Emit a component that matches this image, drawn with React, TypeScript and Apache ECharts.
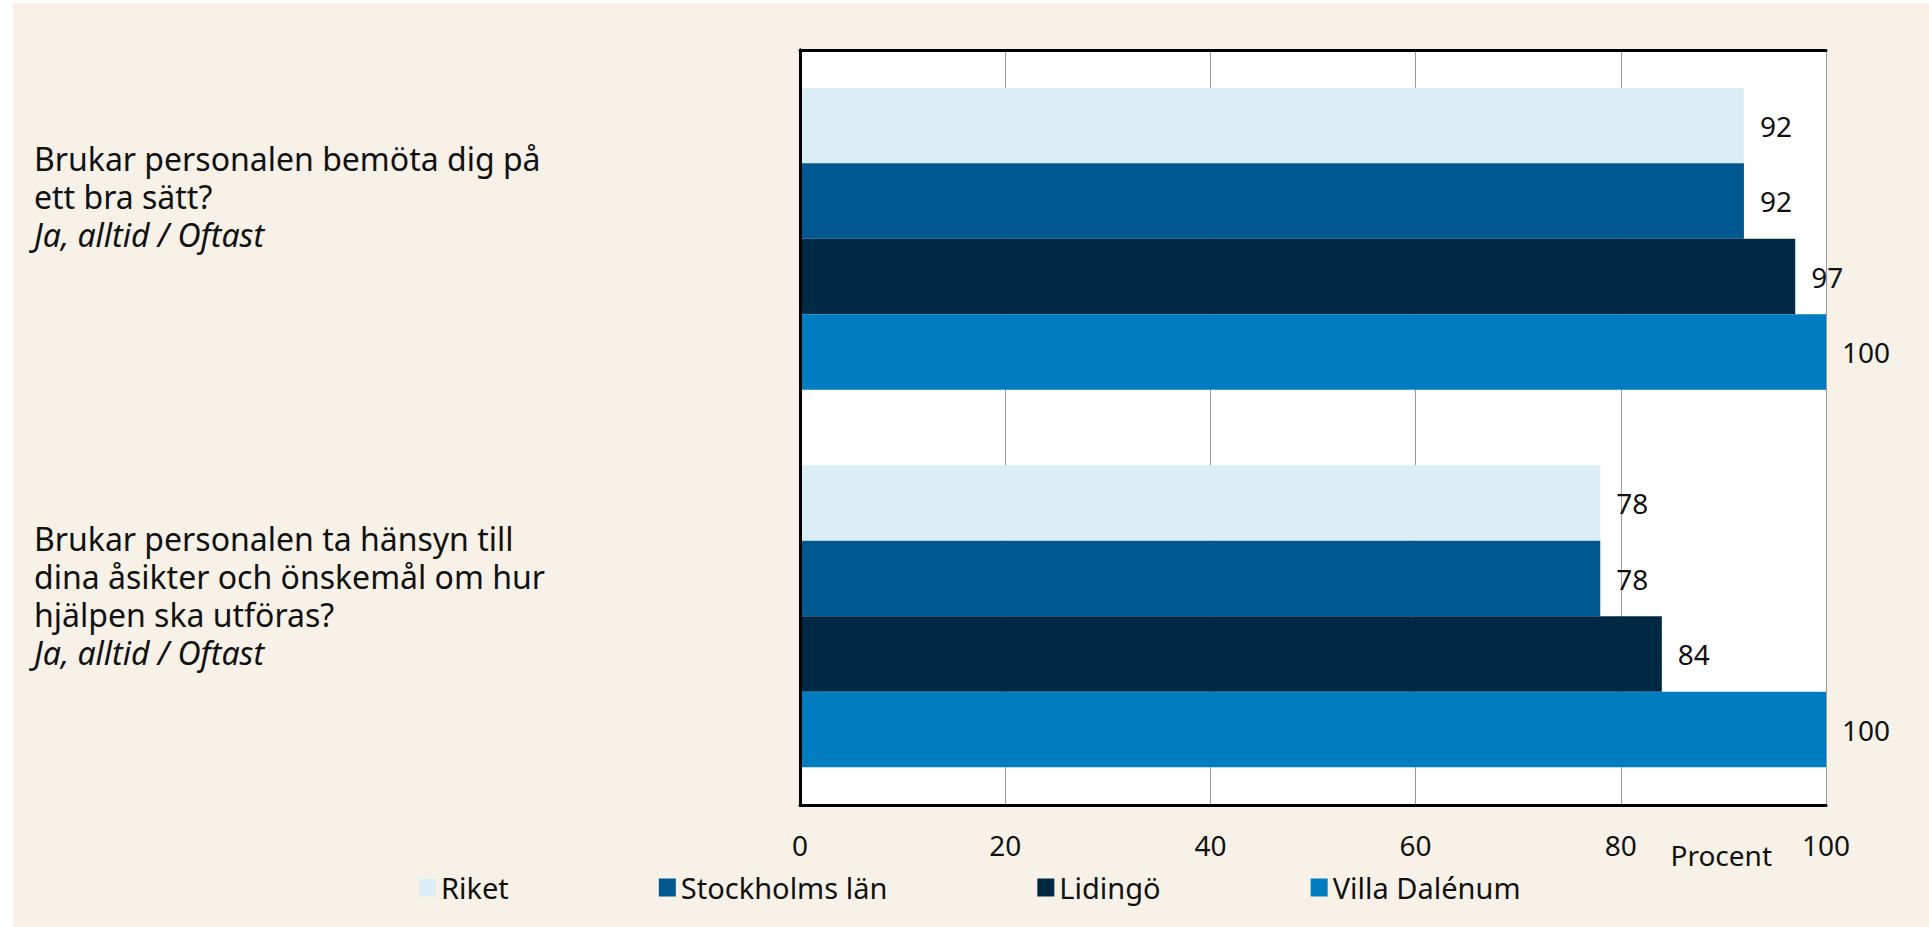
import React, { useEffect, useRef } from "react";
import * as echarts from "echarts";

const questions = [
  ["Brukar personalen bemöta dig på", "ett bra sätt?"],
  ["Brukar personalen ta hänsyn till", "dina åsikter och önskemål om hur", "hjälpen ska utföras?"],
];
const answerNote = "Ja, alltid / Oftast";
const seriesNames = ["Riket", "Stockholms län", "Lidingö", "Villa Dalénum"];
const riket = [92, 78];
const stockholm = [92, 78];
const lidingo = [97, 84];
const villa = [100, 100];
const xTicks = [0, 20, 40, 60, 80, 100];
const axisName = "Procent";

const colors = ["#dbeef5", "#005891", "#002a44", "#007cc0"];
const FONT = "Noto Sans";

export default function App() {
  const ref = useRef<HTMLDivElement>(null);
  useEffect(() => {
    if (!ref.current) return;
    const chart = echarts.init(ref.current, null, { renderer: "svg" });
    const categories = questions.map((lines) => lines.join(" "));
    const lineMap: Record<string, string[]> = {};
    questions.forEach((lines, i) => (lineMap[categories[i]] = lines));
    const values = [riket, stockholm, lidingo, villa];
    const frameLine = { show: true, lineStyle: { color: "#000", width: 3 } };
    chart.setOption({
      animation: false,
      backgroundColor: "transparent",
      textStyle: { fontFamily: FONT },
      grid: {
        left: 787,
        right: 103,
        top: 47,
        bottom: 122,
        show: true,
        backgroundColor: "#ffffff",
        borderWidth: 0,
      },
      legend: {
        data: seriesNames,
        left: 401,
        top: 865,
        icon: "rect",
        itemWidth: 17,
        itemHeight: 18,
        itemGap: 150,
        textStyle: { fontFamily: FONT, fontSize: 29, color: "#111" },
      },
      xAxis: [
        {
          type: "value",
          min: xTicks[0],
          max: xTicks[xTicks.length - 1],
          interval: xTicks[1] - xTicks[0],
          position: "bottom",
          z: 5,
          axisLine: frameLine,
          axisTick: { show: false },
          splitLine: { show: false },
          axisLabel: { fontFamily: FONT, fontSize: 28, color: "#111", margin: 26 },
          name: axisName,
          nameLocation: "end",
          nameGap: -54,
          nameTextStyle: {
            fontFamily: FONT,
            fontSize: 28,
            color: "#111",
            align: "right",
            verticalAlign: "top",
            padding: [36, 0, 0, 0],
          },
        },
        {
          type: "value",
          min: xTicks[0],
          max: xTicks[xTicks.length - 1],
          interval: xTicks[1] - xTicks[0],
          position: "top",
          z: 0,
          axisLine: frameLine,
          axisTick: { show: false },
          splitLine: { show: true, lineStyle: { color: "#9a9a9a", width: 1 } },
          axisLabel: { show: false },
        },
      ],
      yAxis: [
        {
          type: "category",
          data: categories,
          inverse: true,
          position: "left",
          z: 5,
          axisLine: frameLine,
          axisTick: { show: false },
          axisLabel: {
            margin: 766,
            align: "left",
            verticalAlign: "middle",
            formatter: (v: string) => {
              const lines = lineMap[v].map((l) => `{q|${l}}`);
              lines.push(`{i|${answerNote}}`);
              while (lines.length < 5) lines.push("{b| }");
              return lines.join("\n");
            },
            rich: {
              q: { fontFamily: FONT, fontSize: 32, lineHeight: 38, color: "#111" },
              i: { fontFamily: FONT, fontSize: 32, lineHeight: 38, color: "#111", fontStyle: "italic" },
              b: { fontFamily: FONT, fontSize: 32, lineHeight: 42, color: "#111" },
            },
          },
        },
        {
          type: "category",
          data: categories,
          inverse: true,
          position: "right",
          z: 5,
          axisLine: frameLine,
          axisTick: { show: false },
          axisLabel: { show: false },
        },
      ],
      series: seriesNames.map((name, i) => ({
        name,
        type: "bar",
        xAxisIndex: 0,
        yAxisIndex: 0,
        data: values[i],
        barGap: "0%",
        barCategoryGap: "20%",
        itemStyle: { color: colors[i] },
        label: {
          show: true,
          position: "right",
          distance: 16,
          fontFamily: FONT,
          fontSize: 28,
          color: "#111",
        },
      })),
    });
    return () => chart.dispose();
  }, []);
  return (
    <div
      style={{
        position: "absolute",
        left: 13,
        top: 3,
        width: 1916,
        height: 924,
        background: "#f8f1e8",
      }}
    >
      <div ref={ref} style={{ width: 1916, height: 924 }} />
    </div>
  );
}
